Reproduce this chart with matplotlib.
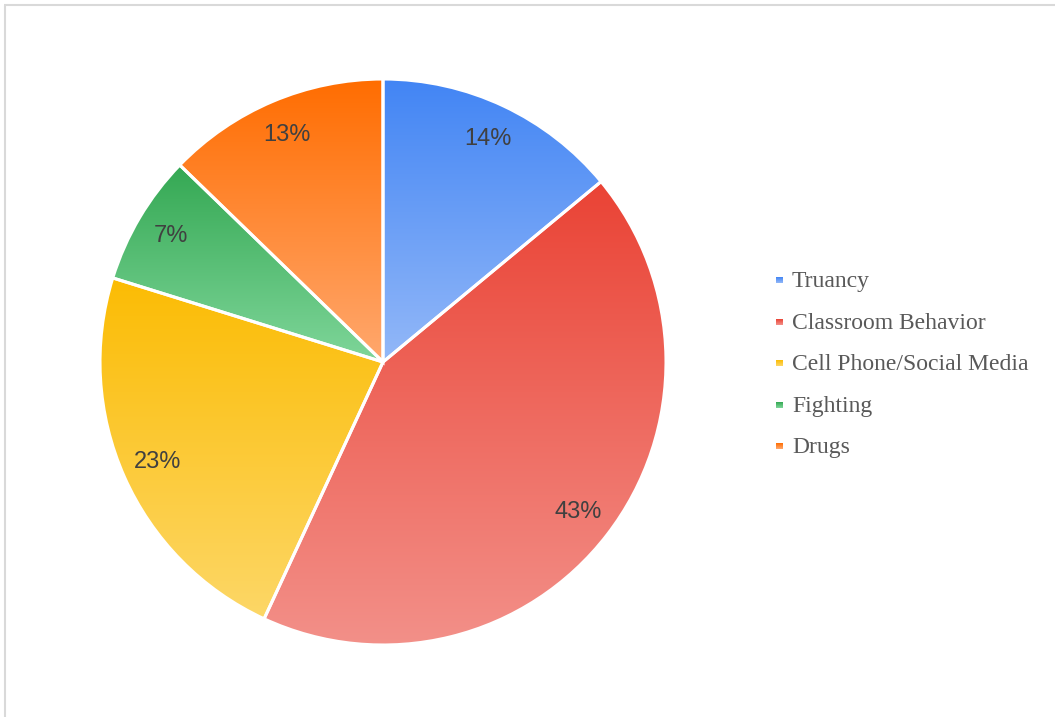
import numpy as np
import matplotlib
matplotlib.use("Agg")
import matplotlib.pyplot as plt
from matplotlib.colors import to_rgb

# data (percent of incidents)
categories = ["Truancy", "Classroom Behavior", "Cell Phone/Social Media", "Fighting", "Drugs"]
shares = [14.0, 42.9, 22.9, 7.45, 12.75]

# gradient colours, top -> bottom of each slice
top_colors = ["#4285F4", "#EA4335", "#FBBC04", "#34A853", "#FF6D01"]
bottom_colors = ["#93B8F8", "#F3918A", "#FDD767", "#7FD69A", "#FFA86E"]

W, H = 1055, 717


def gradient(c1, c2, n=256):
    a = np.array(to_rgb(c1))
    b = np.array(to_rgb(c2))
    t = np.linspace(0, 1, n)[:, None]
    return (a * (1 - t) + b * t)[:, None, :]


fig = plt.figure(figsize=(W / 100, H / 100), dpi=100)
ax = fig.add_axes([0, 0, 1, 1])

cx, cy, R = 383, H - 362, 283

wedges, texts, autotexts = ax.pie(
    shares, startangle=90, counterclock=False, center=(cx, cy), radius=R,
    autopct="%1.0f%%", pctdistance=0.87,
    wedgeprops=dict(edgecolor="white", linewidth=2.2, facecolor="none"),
    textprops=dict(fontsize=17, color="#404040", family="Liberation Sans"))

for w, c1, c2 in zip(wedges, top_colors, bottom_colors):
    verts = w.get_patch_transform().transform(w.get_path().vertices)
    x0, x1 = verts[:, 0].min(), verts[:, 0].max()
    y0, y1 = verts[:, 1].min(), verts[:, 1].max()
    im = ax.imshow(gradient(c1, c2), extent=(x0, x1, y0, y1), origin="upper",
                   aspect="auto", interpolation="bilinear", zorder=0.9)
    im.set_clip_path(w)

# legend, drawn by hand
base = H - 287
step = 41.6
for i, (name, c1, c2) in enumerate(zip(categories, top_colors, bottom_colors)):
    y = base - i * step
    ax.imshow(gradient(c1, c2, 32), extent=(776, 783, y + 4, y + 10), origin="upper",
              aspect="auto", interpolation="bilinear", zorder=2)
    ax.text(792, y, name, fontsize=17, family="Liberation Serif", color="#595959",
            va="baseline", ha="left")

# frame lines (top and left only)
ax.plot([4, W], [H - 5, H - 5], color="#d9d9d9", lw=1.5, solid_capstyle="butt")
ax.plot([5, 5], [0, H - 5], color="#d9d9d9", lw=1.5, solid_capstyle="butt")

ax.set_xlim(0, W)
ax.set_ylim(0, H)
ax.set_aspect("auto")
ax.axis("off")

fig.savefig("out.png", dpi=100)
